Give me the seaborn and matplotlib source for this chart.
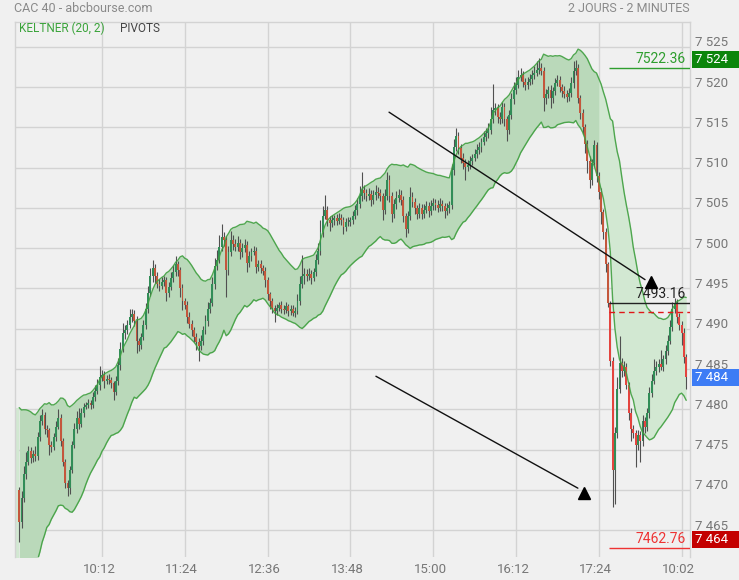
import numpy as np
import pandas as pd
import matplotlib
matplotlib.use("Agg")
import matplotlib.pyplot as plt
from matplotlib.patches import Rectangle
from matplotlib.transforms import offset_copy, blended_transform_factory
import seaborn as sns

# ---------------- data ----------------
first_open = 7470.0
closes = [
    7466, 7469, 7472, 7473.5, 7474.8, 7474, 7474.5, 7474.2, 7476.5, 7478.5,
    7479.3, 7477.5, 7477.4, 7475.5, 7475.3, 7476.5, 7477.8, 7478.9, 7476, 7473.5,
    7470.8, 7470.2, 7472.5, 7475.5, 7477.5, 7478.9, 7478.2, 7479.5, 7480.3, 7480.5,
    7480.8, 7480.5, 7481.5, 7482.3, 7483, 7484, 7484.3, 7483.5, 7483.8, 7483.6,
    7483.2, 7482.2, 7483.5, 7485.5, 7487.5, 7489.5, 7489.8, 7490.5, 7491.5, 7491.8,
    7491, 7488.5, 7488, 7489, 7490.5, 7492.5, 7494.5, 7496.5, 7497.5, 7496.5,
    7495.5, 7495.3, 7495.8, 7496, 7494.4, 7495.2, 7496.3, 7497, 7498, 7497.3,
    7495, 7493.5, 7493, 7491.5, 7490.6, 7489.8, 7489, 7488.3, 7487.9, 7488.5,
    7489.8, 7491, 7492.5, 7493.2, 7495.5, 7497.8, 7498.6, 7500.2, 7501.4, 7501,
    7497.3, 7499.5, 7501, 7500.5, 7500.2, 7500.6, 7499.5, 7500, 7500.4, 7498.2,
    7499, 7499.5, 7499.6, 7497.7, 7498, 7497.5, 7497.2, 7496, 7494.3, 7493.4,
    7492.6, 7492.2, 7492.6, 7492.9, 7492.5, 7492.3, 7492.8, 7492.2, 7492.5, 7492,
    7492.2, 7493.5, 7495.5, 7496.5, 7496.8, 7496.5, 7496.8, 7496.3, 7497, 7498.5,
    7499.7, 7502, 7504, 7504.7, 7503.5, 7503.1, 7503.5, 7503.7, 7503.4, 7503.8,
    7503.5, 7502.6, 7503.2, 7503.3, 7503.5, 7504, 7504.7, 7505.5, 7506.5, 7507.2,
    7506.8, 7506.5, 7506.7, 7506, 7506.6, 7507, 7506.8, 7506.5, 7504.7, 7506.5,
    7508.5, 7506.5, 7504.3, 7505.5, 7506.3, 7506.6, 7506, 7504, 7502.4, 7504,
    7506.4, 7505.7, 7505, 7504.3, 7505, 7504.2, 7504.8, 7505.3, 7504.6, 7505.2,
    7505.6, 7505.4, 7505, 7505.5, 7505.2, 7504.6, 7505, 7505.4, 7509.7, 7512.6,
    7513.9, 7512.5, 7511.2, 7510.6, 7510.1, 7510.4, 7510.8, 7511.2, 7511.7, 7512.2,
    7512.6, 7513.2, 7513.8, 7514.3, 7514.7, 7516, 7517.2, 7517.4, 7516.3, 7516.1,
    7517.6, 7516, 7514.7, 7516.5, 7518.5, 7519.7, 7520.3, 7521.3, 7521.5, 7520.6,
    7520.3, 7520.7, 7521, 7521.5, 7521.8, 7522.2, 7522.4, 7522, 7518.6, 7519.2,
    7519.7, 7518.6, 7519.5, 7520.5, 7520.9, 7520, 7519.5, 7519.2, 7518.8, 7519.3,
    7520.5, 7522, 7522.4, 7518.6, 7516.8, 7515, 7513, 7510.8, 7508.5, 7510.6,
    7512.8, 7509, 7507, 7504.5, 7502, 7498, 7493.16,
    # day 2
    7486, 7472.5, 7477, 7482.5, 7485.8, 7484.7, 7485.2, 7483, 7479.5, 7477.5,
    7477, 7475.5, 7476.8, 7476, 7478.5, 7477.8, 7479.5, 7482, 7483.5, 7484.8,
    7485.2, 7485.6, 7485.3, 7486.2, 7487.2, 7488.5, 7490.2, 7492.5, 7493.2, 7491.5,
    7490.5, 7489.5, 7486.5, 7484,
]
up_wick = [
    0.3, 0.8, 1.0, 1.2, 0.6, 0.5, 0.4, 0.9, 0.7, 0.8,
    0.7, 0.4, 0.5, 0.3, 0.5, 0.6, 0.7, 1.1, 0.5, 0.4,
    0.3, 0.4, 0.5, 0.6, 0.8, 0.9, 1.2, 0.6, 0.5, 0.4,
    0.5, 0.4, 0.6, 0.7, 0.8, 1.4, 0.6, 0.5, 0.4, 0.6,
    0.4, 0.3, 0.6, 0.9, 0.8, 1.2, 0.7, 0.6, 0.9, 0.6,
    0.5, 0.6, 0.4, 0.5, 0.6, 0.7, 0.8, 1.0, 1.0, 0.6,
    0.5, 0.7, 0.6, 0.5, 0.4, 0.6, 0.7, 0.9, 1.0, 0.4,
    0.4, 0.5, 0.3, 0.4, 0.6, 0.5, 0.4, 0.5, 0.6, 0.7,
    0.6, 0.7, 0.8, 0.6, 0.9, 1.0, 1.2, 1.4, 1.6, 0.6,
    0.5, 0.8, 1.2, 0.7, 0.6, 0.9, 0.5, 0.6, 0.7, 0.5,
    0.6, 0.5, 0.7, 0.5, 0.6, 0.5, 0.4, 0.5, 0.4, 0.3,
    0.4, 0.3, 0.5, 0.4, 0.6, 0.4, 0.5, 0.3, 0.4, 0.5,
    0.5, 0.8, 1.0, 2.6, 0.8, 0.6, 0.7, 0.5, 0.6, 0.8,
    1.0, 1.5, 1.3, 1.9, 0.6, 0.5, 0.6, 0.4, 0.5, 0.6,
    0.5, 0.4, 0.5, 0.6, 0.4, 0.6, 0.7, 0.8, 1.2, 2.3,
    0.6, 0.5, 0.8, 0.5, 0.6, 0.9, 0.6, 0.5, 0.4, 0.8,
    1.0, 0.6, 0.5, 0.6, 0.8, 0.7, 0.6, 0.5, 0.4, 0.6,
    1.2, 0.6, 0.5, 0.4, 0.6, 0.5, 0.7, 0.6, 0.5, 0.8,
    0.7, 0.5, 0.6, 0.8, 0.5, 0.4, 0.6, 0.5, 0.8, 1.0,
    1.0, 0.5, 0.4, 0.6, 0.5, 0.6, 0.7, 0.5, 0.6, 0.7,
    0.6, 0.5, 0.7, 0.6, 0.8, 1.5, 3.2, 0.6, 0.5, 0.6,
    0.6, 0.5, 0.4, 0.7, 0.8, 0.9, 1.0, 0.8, 0.9, 0.5,
    0.5, 0.6, 0.7, 0.6, 0.8, 1.0, 1.2, 0.6, 0.5, 0.6,
    0.5, 0.6, 0.5, 0.7, 0.6, 0.5, 0.4, 0.6, 0.5, 0.6,
    0.8, 1.2, 1.0, 0.5, 0.4, 0.5, 0.4, 0.5, 0.6, 0.5,
    0.6, 0.4, 0.5, 0.5, 0.4, 0.5, 0.3,
    0.3, 0.5, 0.8, 1.5, 3.3, 0.6, 0.8, 0.5, 0.4, 0.6,
    0.5, 0.4, 0.6, 0.5, 0.8, 0.6, 0.7, 0.8, 0.9, 1.5,
    0.8, 0.7, 1.8, 0.6, 0.8, 0.7, 0.9, 0.8, 0.6, 0.5,
    0.4, 0.5, 0.6, 0.4,
]
dn_wick = [
    2.5, 0.8, 0.5, 0.6, 0.4, 0.7, 0.5, 0.6, 0.5, 0.4,
    0.5, 0.6, 0.8, 1.2, 0.6, 0.4, 0.5, 0.3, 0.6, 0.5,
    0.6, 1.0, 0.7, 0.4, 0.3, 0.5, 0.6, 0.4, 0.5, 0.3,
    0.4, 0.5, 0.3, 0.5, 0.4, 0.6, 0.5, 0.8, 0.4, 0.5,
    0.5, 1.0, 0.4, 0.5, 0.6, 0.4, 0.8, 0.5, 0.4, 0.7,
    0.6, 1.5, 0.8, 0.5, 0.4, 0.5, 0.6, 0.4, 0.7, 0.8,
    0.5, 0.6, 0.4, 0.5, 0.9, 0.5, 0.4, 0.5, 0.4, 0.7,
    1.0, 1.2, 0.6, 0.8, 0.5, 0.7, 0.6, 0.9, 1.9, 0.6,
    0.5, 0.4, 0.6, 0.5, 0.4, 0.6, 0.5, 0.4, 0.5, 0.7,
    3.3, 0.6, 0.5, 0.7, 0.6, 0.5, 0.8, 0.6, 0.5, 1.2,
    0.5, 0.6, 0.4, 0.8, 0.5, 0.6, 0.5, 0.8, 0.7, 0.9,
    0.6, 1.4, 0.5, 0.4, 0.6, 0.5, 0.4, 0.6, 0.5, 0.4,
    0.5, 0.4, 0.6, 0.5, 0.9, 0.6, 0.5, 0.8, 0.4, 0.5,
    0.4, 0.5, 0.6, 0.4, 0.7, 0.9, 0.5, 0.6, 0.5, 0.4,
    0.6, 0.8, 0.5, 0.4, 0.6, 0.5, 0.4, 0.6, 0.5, 0.6,
    0.7, 0.6, 0.5, 0.8, 0.5, 0.6, 0.5, 0.6, 1.2, 0.5,
    0.5, 0.8, 1.0, 0.5, 0.6, 0.5, 0.6, 0.8, 1.0, 0.5,
    0.5, 0.6, 0.8, 0.7, 0.5, 0.6, 0.5, 0.4, 0.7, 0.5,
    0.5, 0.6, 0.5, 0.4, 0.6, 0.8, 0.5, 0.6, 0.5, 0.6,
    0.5, 0.8, 0.6, 0.7, 1.6, 0.5, 0.6, 0.5, 0.4, 0.5,
    0.5, 0.6, 0.4, 0.5, 0.6, 0.5, 0.4, 0.6, 0.8, 0.7,
    0.5, 0.8, 1.4, 0.5, 0.4, 0.6, 0.5, 0.4, 0.5, 0.6,
    0.6, 0.5, 0.4, 0.6, 0.5, 0.4, 0.6, 0.5, 1.5, 0.7,
    0.5, 1.2, 0.6, 0.5, 0.4, 0.6, 0.7, 0.5, 0.6, 0.5,
    0.5, 0.6, 0.5, 0.6, 0.7, 0.8, 1.2, 1.5, 1.0, 0.6,
    0.5, 0.8, 0.9, 1.5, 0.8, 0.9, 0.5,
    0.6, 4.7, 4.3, 0.6, 0.5, 0.7, 0.6, 0.5, 0.8, 1.5,
    0.6, 2.7, 0.5, 2.5, 0.6, 0.7, 0.5, 0.6, 0.5, 0.4,
    0.5, 0.6, 0.4, 0.5, 0.6, 0.5, 0.4, 0.5, 0.6, 0.8,
    0.6, 1.5, 0.8, 1.5,
]
day1_count = 257          # candles of the first session (2-minute bars)
time_tick_idx = [36, 72, 108, 144, 180, 216, 252, 288]
time_tick_labels = ["10:12", "11:24", "12:36", "13:48", "15:00", "16:12", "17:24", "10:02"]
price_ticks = [7465, 7470, 7475, 7480, 7485, 7490, 7495, 7500, 7505, 7510, 7515, 7520, 7525]

pivot_high = 7522.36
pivot_close = 7493.16
pivot_low = 7462.76
pivot_dash = 7492.04

box_values = [7524, 7484, 7464]
box_colors = ["#0b850b", "#3d7cf5", "#c40000"]
box_anchor = ["bottom", "center", "bottom"]
box_levels = [7522.36, 7484.0, 7462.76]

trend_x = [[160.8, 272.1], [155.1, 242.9]]
trend_y = [[7516.9, 7496.1], [7484.1, 7470.2]]
trend_tip_x = [274.7, 245.6]
trend_tip_y = [7495.8, 7469.6]

# ---------------- build OHLC ----------------
c = np.array(closes, dtype=float)
o = np.concatenate([[first_open], c[:-1]])
h = np.maximum(o, c) + np.array(up_wick)
l = np.minimum(o, c) - np.array(dn_wick)
idx = np.arange(len(c))
df = pd.DataFrame({"i": idx, "open": o, "high": h, "low": l, "close": c})

# Keltner (20, 2)
tp = (df.high + df.low + df.close) / 3
mid = tp.ewm(span=20, adjust=False).mean()
prev_c = df.close.shift(1).fillna(df.open)
tr = pd.concat([df.high - df.low, (df.high - prev_c).abs(), (df.low - prev_c).abs()], axis=1).max(axis=1)
atr = tr.ewm(span=20, adjust=False).mean()
df["upper"] = mid + 2 * atr
df["lower"] = mid - 2 * atr

# ---------------- figure ----------------
W, H = 739, 580
sns.set_theme(style="whitegrid", rc={
    "axes.facecolor": "#f0f0f0", "figure.facecolor": "#f0f0f0",
    "grid.color": "#d3d3d3", "grid.linewidth": 1.0,
    "axes.edgecolor": "#d3d3d3",
})
plt.rcParams["font.family"] = ["Roboto", "DejaVu Sans"]

fig = plt.figure(figsize=(W / 100, H / 100), dpi=100)
ax = fig.add_axes([15 / W, (H - 557) / H, 675 / W, 535 / H])

def px(x, y):
    return x / W, 1 - y / H

x_left = (15 - 19.2) / 2.3
x_right = (690 - 19.2) / 2.3
ax.set_xlim(x_left, x_right)
ax.set_ylim(7461.65, 7528.1)

# Keltner fill
d1 = df[df.i <= 253]
d2 = df[df.i >= 252]
ax.fill_between([x_left, 0], [df.upper[0]] * 2, [df.lower[0]] * 2, color="#d2e8d2", lw=0, zorder=1)
ax.fill_between(d1.i, d1.upper, d1.lower, color="#bad9ba", lw=0, zorder=1)
ax.fill_between(d2.i, d2.upper, d2.lower, color="#d2e8d2", lw=0, zorder=1)

# candles
green = "#318d57"
red1 = "#c4573c"
red2 = "#e4443f"
cols = [green if cc >= oo else (red2 if i >= day1_count else red1) for i, (oo, cc) in enumerate(zip(o, c))]
ax.vlines(idx, l, h, color="#505050", linewidth=0.8, zorder=3)
ax.bar(idx, np.maximum(np.abs(c - o), 0.12), bottom=np.minimum(o, c), width=0.86,
       color=cols, linewidth=0, zorder=4)

# band lines
sns.lineplot(data=df, x="i", y="upper", ax=ax, color="#3f9f3f", linewidth=1.0, alpha=0.9, zorder=5)
sns.lineplot(data=df, x="i", y="lower", ax=ax, color="#3f9f3f", linewidth=1.0, alpha=0.9, zorder=5)

# pivots
xs = day1_count - 0.6
ax.hlines(pivot_high, xs, x_right, color="#2e9e2e", lw=1.0, zorder=6)
ax.hlines(pivot_close, xs, x_right, color="#222222", lw=1.0, zorder=6)
ax.hlines(pivot_low, xs, x_right, color="#ee3333", lw=1.0, zorder=6)
ax.hlines(pivot_dash, xs, x_right, color="#e01818", lw=1.0, linestyles=(0, (4, 3)), zorder=6)
tx = x_right - 1.7
ax.text(tx, pivot_high + 0.25, f"{pivot_high:.2f}", color="#2e9e2e", fontsize=10, ha="right", va="bottom", zorder=7)
ax.text(tx, pivot_close + 0.25, f"{pivot_close:.2f}", color="#222222", fontsize=10, ha="right", va="bottom", zorder=7)
ax.text(tx, pivot_low + 0.25, f"{pivot_low:.2f}", color="#ee3333", fontsize=10, ha="right", va="bottom", zorder=7)

# trend lines with triangle tips
for tx_, ty_, mx, my in zip(trend_x, trend_y, trend_tip_x, trend_tip_y):
    ax.plot(tx_, ty_, color="#111111", lw=1.0, zorder=8)
    ax.plot([mx], [my], marker="^", color="#000000", markersize=8.5, zorder=8)

# grid / ticks
ax.set_yticks(price_ticks)
ax.set_yticklabels([])
ax.set_xticks(time_tick_idx)
ax.set_xticklabels(time_tick_labels, color="#777777", fontsize=9.5)
ax.tick_params(axis="both", length=0)
ax.tick_params(axis="x", pad=4)
for lab in ax.get_xticklabels():
    lab.set_transform(offset_copy(lab.get_transform(), fig=fig, x=-3, y=0, units="dots"))
ax.grid(True, color="#d3d3d3", lw=1.0)
ax.set_xlabel("")
ax.set_ylabel("")
for s in ["top", "left", "right"]:
    ax.spines[s].set_visible(True)
    ax.spines[s].set_color("#d3d3d3")
    ax.spines[s].set_linewidth(1.0)
ax.spines["bottom"].set_visible(False)

trans = blended_transform_factory(ax.transAxes, ax.transData)
for p in price_ticks:
    ax.text(1.0, p, f"{p // 1000} {p % 1000:03d}",
            transform=offset_copy(trans, fig=fig, x=5, y=4, units="dots"),
            ha="left", va="center", color="#777777", fontsize=9.5, clip_on=False)

# right-side value boxes
ppu = 535 / (7528.1 - 7461.65)   # pixels per point
for v, col, anc, lev in zip(box_values, box_colors, box_anchor, box_levels):
    ylev = 557 - (lev - 7461.65) * ppu
    if anc == "bottom":
        top, bot = ylev - 17, ylev
    else:
        top, bot = ylev - 8.5, ylev + 8.5
    x0, y0 = px(692, bot)
    fig.add_artist(Rectangle((x0, y0), 47 / W, 17 / H, transform=fig.transFigure,
                             facecolor=col, edgecolor="none", zorder=10))
    fig.text(*px(695, (top + bot) / 2), f"{v // 1000} {v % 1000:03d}", color="white",
             fontsize=9.5, ha="left", va="center", zorder=11)

# header texts
fig.text(*px(14, 9), "CAC 40 - abcbourse.com", color="#8a8a8a", fontsize=9, ha="left", va="center")
fig.text(*px(690, 9), "2 JOURS - 2 MINUTES", color="#8a8a8a", fontsize=9, ha="right", va="center")
fig.text(*px(19, 28.5), "KELTNER (20, 2)", color="#3aa33a", fontsize=8.5, ha="left", va="center")
fig.text(*px(120, 28.5), "PIVOTS", color="#444444", fontsize=8.5, ha="left", va="center")

fig.savefig("out.png", dpi=100, facecolor=fig.get_facecolor())
